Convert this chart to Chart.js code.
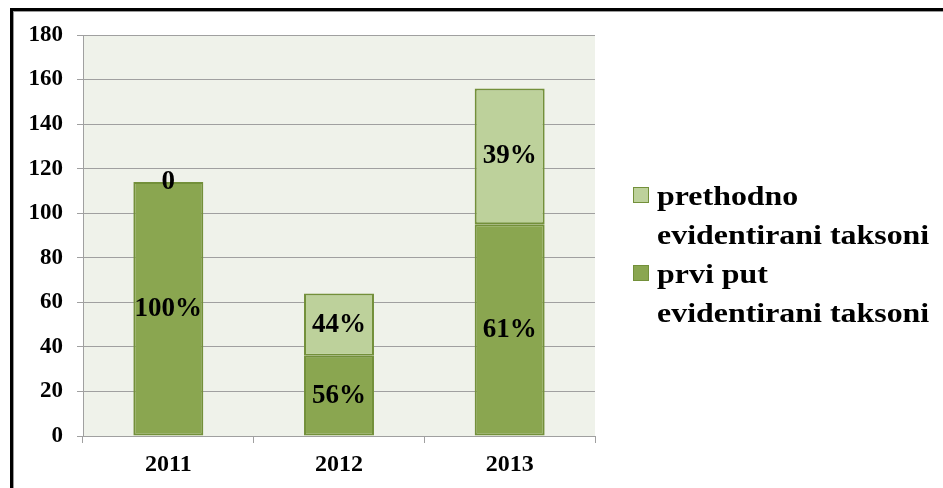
<!DOCTYPE html>
<html>
<head>
<meta charset="utf-8">
<title>Taksoni</title>
<script src="https://cdn.jsdelivr.net/npm/chart.js@4.4.1/dist/chart.umd.min.js"></script>
<style>
  html, body { margin: 0; padding: 0; background: #fff; }
  body { width: 943px; height: 488px; overflow: hidden; position: relative; }
  #frame {
    position: absolute; left: 10px; top: 8px; width: 940px; height: 490px;
    border-top: 3px solid #000; border-left: 3px solid #000;
    box-shadow: inset 1px 1px 0 #9a9a9a; pointer-events: none; z-index: 2;
  }
  #wrap { position: absolute; left: 0; top: 0; width: 943px; height: 488px; }
  #legend {
    position: absolute; left: 633px; top: 176px;
    font-family: "Liberation Serif", "Times New Roman", serif; font-weight: bold;
    font-size: 28px; line-height: 39px; color: #000;
  }
  .item { display: flex; align-items: flex-start; }
  .box { width: 14px; height: 14px; margin-top: 11px; margin-right: 8px; border: 1px solid; flex: none; }
  .txt { transform: scaleX(1.14); transform-origin: left; white-space: nowrap; }
</style>
</head>
<body>
<div id="wrap"><canvas id="chart"></canvas></div>
<div id="legend"></div>
<div id="frame"></div>
<script>
// Podaci
const godine = ["2011", "2012", "2013"];
const prviPut = [114, 36, 95];
const prethodno = [0, 28, 61];
const yTicks = [0, 20, 40, 60, 80, 100, 120, 140, 160, 180];

const labelPrvi = ["prvi put", "evidentirani taksoni"];
const labelPrethodno = ["prethodno", "evidentirani taksoni"];

const tamna = "#8aa650", svijetla = "#bdd19b", rub = "#73903a";
const font = '"Liberation Serif", "Times New Roman", serif';

// Pozadina područja grafa
const pozadina = {
  id: "pozadina",
  beforeDraw(chart) {
    const a = chart.chartArea, ctx = chart.ctx;
    ctx.save();
    ctx.fillStyle = "#eff2ea";
    ctx.fillRect(a.left, a.top, a.right - a.left, a.bottom - a.top);
    ctx.restore();
  },
};

// Postoci na stupcima
const oznake = {
  id: "oznake",
  afterDatasetsDraw(chart) {
    const ctx = chart.ctx;
    ctx.save();
    ctx.font = "bold 27px " + font;
    ctx.fillStyle = "#000";
    ctx.textAlign = "center";
    ctx.textBaseline = "middle";
    chart.data.datasets.forEach((ds, di) => {
      chart.getDatasetMeta(di).data.forEach((bar, i) => {
        const v = ds.data[i];
        const ukupno = prviPut[i] + prethodno[i];
        const tekst = v === 0 ? "0" : Math.round((v / ukupno) * 100) + "%";
        const p = bar.getProps(["x", "y", "base"], true);
        ctx.fillText(tekst, p.x, (p.y + p.base) / 2);
      });
    });
    ctx.restore();
  },
};

const ctx = document.getElementById("chart").getContext("2d");
const myChart = new Chart(ctx, {
  type: "bar",
  data: {
    labels: godine,
    datasets: [
      { label: labelPrvi, data: prviPut, backgroundColor: tamna },
      { label: labelPrethodno, data: prethodno, backgroundColor: svijetla },
    ].map((d) => Object.assign(d, {
      borderColor: rub, borderWidth: 2, borderSkipped: false,
      categoryPercentage: 1, barPercentage: 0.41,
    })),
  },
  options: {
    responsive: true,
    maintainAspectRatio: false,
    animation: false,
    layout: { padding: { top: 35, right: 348, left: 0, bottom: 0 } },
    plugins: { legend: { display: false }, tooltip: { enabled: false } },
    scales: {
      x: {
        stacked: true,
        afterFit: (s) => { s.height = 52; },
        grid: { offset: true, drawOnChartArea: false, color: "#a0a0a0", tickLength: 7 },
        border: { color: "#a0a0a0" },
        ticks: { color: "#000", padding: 7, font: { family: font, size: 24, weight: "bold" } },
      },
      y: {
        stacked: true,
        min: 0,
        max: 180,
        afterFit: (s) => { s.width = 83; },
        afterBuildTicks: (s) => { s.ticks = yTicks.map((v) => ({ value: v })); },
        grid: { color: "#a0a0a0", tickLength: 6 },
        border: { color: "#a0a0a0" },
        ticks: { color: "#000", padding: 14, font: { family: font, size: 23, weight: "bold" } },
      },
    },
  },
  plugins: [pozadina, oznake],
});

// Legenda (obrnuti redoslijed, kao u Excelu)
const legendElement = document.getElementById("legend");
legendElement.innerHTML = myChart.data.datasets.slice().reverse().map((ds) => `
  <div class="item">
    <span class="box" style="background:${ds.backgroundColor};border-color:${ds.borderColor}"></span>
    <div class="txt">${ds.label.map((l) => `<div>${l}</div>`).join("")}</div>
  </div>`).join("");
</script>
</body>
</html>
